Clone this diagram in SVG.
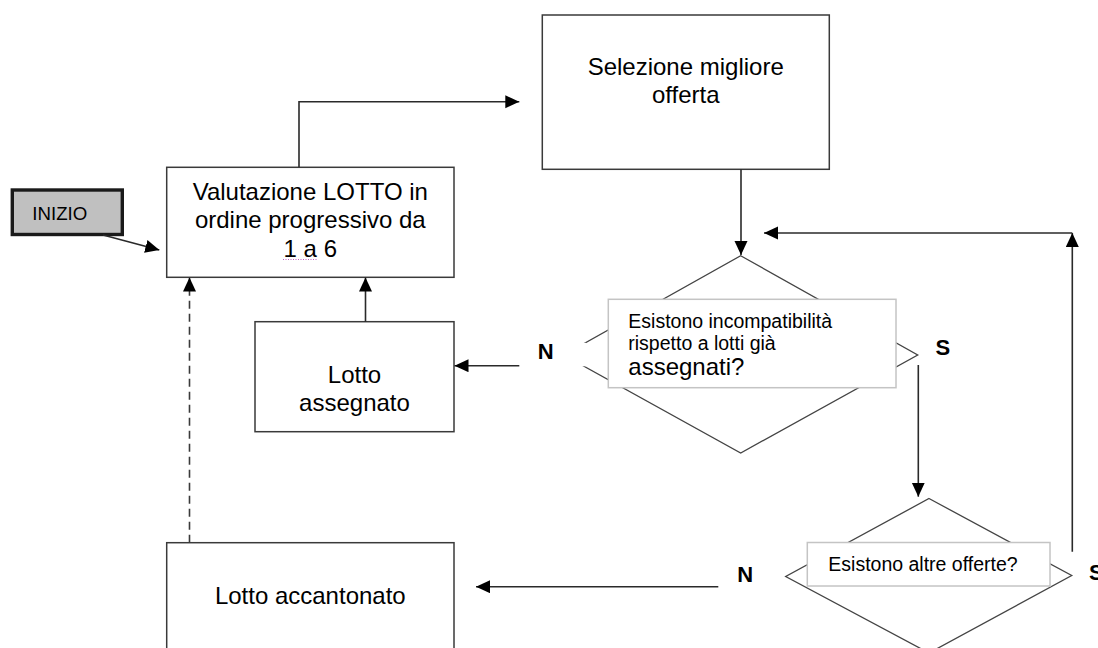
<svg xmlns="http://www.w3.org/2000/svg" width="1098" height="648" viewBox="0 0 1098 648">
<style>
  .box { fill: #ffffff; stroke: #3a3a3a; stroke-width: 1.5; }
  .qbox { fill: #ffffff; stroke: #c4c4c4; stroke-width: 1.5; }
  .dia { fill: #ffffff; stroke: #444444; stroke-width: 1.3; }
  .t { font-family: "Liberation Sans", Arial, sans-serif; font-size: 24px; fill: #000000; }
  .q { font-family: "Liberation Sans", Arial, sans-serif; font-size: 19.5px; fill: #000000; }
  .lbl { font-family: "Liberation Sans", Arial, sans-serif; font-size: 22px; font-weight: bold; fill: #000000; }
  .c { fill: none; stroke: #2a2a2a; stroke-width: 1.6; }
  .dash { stroke-dasharray: 8 5; stroke: #3a3a3a; }
</style>
<defs>
  <marker id="ah" markerUnits="userSpaceOnUse" markerWidth="15" markerHeight="14" refX="14" refY="6.5" orient="auto">
    <path d="M0,0 L14,6.5 L0,13 z" fill="#000000"/>
  </marker>
</defs>
<rect width="1098" height="648" fill="#ffffff"/>

<g id="n-selezione">
  <rect class="box" x="542.3" y="15" width="287" height="154.3"/>
  <text class="t" x="685.7" y="75" text-anchor="middle">Selezione migliore</text>
  <text class="t" x="685.7" y="103.3" text-anchor="middle">offerta</text>
</g>

<g id="n-valutazione">
  <rect class="box" x="166.7" y="167.3" width="287.3" height="110"/>
  <text class="t" x="310.3" y="200" text-anchor="middle">Valutazione LOTTO in</text>
  <text class="t" x="310.3" y="228.3" text-anchor="middle">ordine progressivo da</text>
  <text class="t" x="310.3" y="256.7" text-anchor="middle">1 a 6</text>
  <line x1="283" y1="259.5" x2="317" y2="259.5" stroke="#c060c0" stroke-width="1" stroke-dasharray="1 1.5"/>
</g>

<g id="n-inizio">
  <rect x="12.3" y="190" width="110" height="44.5" fill="#c0c0c0" stroke="#1a1a1a" stroke-width="3.4"/>
  <text x="32.3" y="220" font-family="'Liberation Sans', Arial, sans-serif" font-size="18.5" fill="#000" textLength="55" lengthAdjust="spacingAndGlyphs">INIZIO</text>
</g>

<g id="n-assegnato">
  <rect class="box" x="255" y="321.7" width="199" height="110"/>
  <text class="t" x="354.5" y="383.3" text-anchor="middle">Lotto</text>
  <text class="t" x="354.5" y="410.7" text-anchor="middle">assegnato</text>
</g>

<g id="n-accantonato">
  <rect class="box" x="166.7" y="542.7" width="287.3" height="130"/>
  <text class="t" x="310.3" y="604" text-anchor="middle">Lotto accantonato</text>
</g>

<g id="n-incompatibilita">
  <polygon class="dia" points="740.7,255.7 917.7,355 740.7,453 563.7,355"/>
  <rect class="qbox" x="608.3" y="299.3" width="287.7" height="88.4"/>
  <text class="q" x="628.3" y="328">Esistono incompatibilità</text>
  <text class="q" x="628.3" y="350">rispetto a lotti già</text>
  <text x="628.3" y="375" font-family="'Liberation Sans', Arial, sans-serif" font-size="24" fill="#000">assegnati?</text>
</g>

<g id="n-altre-offerte">
  <polygon class="dia" points="929,498.5 1071.7,575.5 929,653 785.7,576.5"/>
  <rect class="qbox" x="807.3" y="542.5" width="242.7" height="43.5"/>
  <text class="q" x="828.3" y="570.7">Esistono altre offerte?</text>
</g>

<g id="labels">
  <rect x="521" y="342.8" width="65" height="23.5" fill="#ffffff"/>
  <text class="lbl" x="537.8" y="359.3">N</text>
  <text class="lbl" x="935.5" y="355">S</text>
  <text class="lbl" x="737.2" y="581.7">N</text>
  <text class="lbl" x="1089" y="580">S</text>
</g>

<g id="connectors">
  <path class="c" d="M299,167 L299,101.7 L519.3,101.7" marker-end="url(#ah)"/>
  <line class="c" x1="103" y1="235" x2="159.3" y2="250" marker-end="url(#ah)"/>
  <line class="c" x1="741" y1="169.3" x2="741" y2="255" marker-end="url(#ah)"/>
  <line class="c" x1="365.5" y1="321.7" x2="365.5" y2="277.5" marker-end="url(#ah)"/>
  <line class="c dash" x1="189.5" y1="542.7" x2="189.5" y2="277.5" marker-end="url(#ah)"/>
  <line class="c" x1="519.3" y1="365.7" x2="454.5" y2="365.7" marker-end="url(#ah)"/>
  <line class="c" x1="918.3" y1="365" x2="918.3" y2="496.7" marker-end="url(#ah)"/>
  <line class="c" x1="718.3" y1="586.7" x2="476" y2="586.7" marker-end="url(#ah)"/>
  <line class="c" x1="1072.3" y1="551.7" x2="1072.3" y2="233" marker-end="url(#ah)"/>
  <line class="c" x1="1072.3" y1="233" x2="764" y2="233" marker-end="url(#ah)"/>
</g>
</svg>
